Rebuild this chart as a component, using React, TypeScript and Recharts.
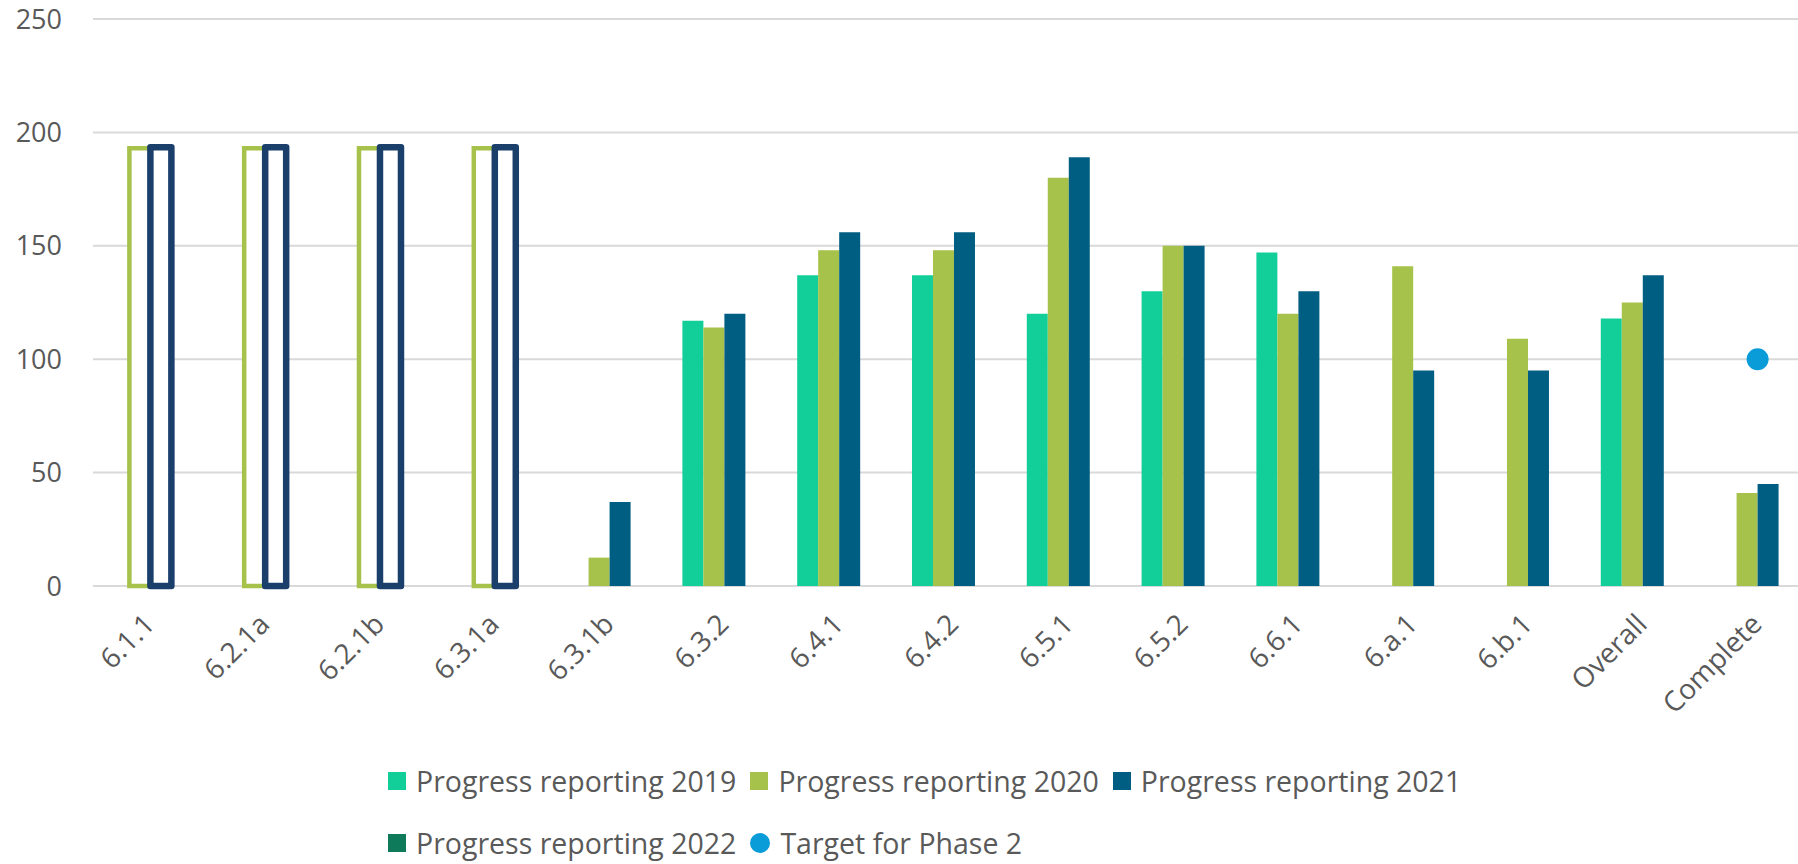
import React from "react";
import {
  ComposedChart,
  Bar,
  Line,
  Cell,
  XAxis,
  YAxis,
  CartesianGrid,
  Legend,
} from "recharts";

// Indicator categories along the x axis
const categories = [
  "6.1.1",
  "6.2.1a",
  "6.2.1b",
  "6.3.1a",
  "6.3.1b",
  "6.3.2",
  "6.4.1",
  "6.4.2",
  "6.5.1",
  "6.5.2",
  "6.6.1",
  "6.a.1",
  "6.b.1",
  "Overall",
  "Complete",
];

// Series values (null = no bar)
const reporting2019 = [null, null, null, null, null, 117, 137, 137, 120, 130, 147, null, null, 118, null];
const reporting2020 = [193, 193, 193, 193, 12.5, 114, 148, 148, 180, 150, 120, 141, 109, 125, 41];
const reporting2021 = [193.5, 193.5, 193.5, 193.5, 37, 120, 156, 156, 189, 150, 130, 95, 95, 137, 45];
const reporting2022 = [null, null, null, null, null, null, null, null, null, null, null, null, null, null, null];
const targetPhase2 = [null, null, null, null, null, null, null, null, null, null, null, null, null, null, 100];

// Categories drawn as empty (outlined) placeholder bars
const outlined = [true, true, true, true, false, false, false, false, false, false, false, false, false, false, false];

const yTicks = [0, 50, 100, 150, 200, 250];

const seriesColors: Record<string, string> = {
  p2019: "#12cf99",
  p2020: "#a6c24a",
  p2021: "#005e82",
  p2022: "#0e7a5a",
  target: "#0a9cd8",
};

const outlineBlue = "#1a3f6b";
const textGray = "#595959";
const font = "'Open Sans', sans-serif";

const chartData = categories.map((name, i) => ({
  name,
  p2019: reporting2019[i],
  p2020: reporting2020[i],
  p2021: reporting2021[i],
  p2022: reporting2022[i],
  target: targetPhase2[i],
}));

function CategoryTick(props: any) {
  const { x, y, payload } = props;
  const ax = x + 6;
  const ay = y + 40;
  return (
    <text
      x={ax}
      y={ay}
      textAnchor="end"
      fill={textGray}
      fontSize={28}
      fontFamily={font}
      transform={`rotate(-45 ${ax} ${ay})`}
    >
      {payload.value}
    </text>
  );
}

function renderLegend(props: any) {
  const items = props.payload ?? [];
  const rows = [items.slice(0, 3), items.slice(3)];
  return (
    <div
      style={{
        position: "absolute",
        left: 388,
        top: 766,
        fontFamily: font,
        fontSize: 28.5,
        color: textGray,
      }}
    >
      {rows.map((row: any[], r: number) => (
        <div
          key={r}
          style={{
            display: "flex",
            alignItems: "center",
            height: 30,
            marginBottom: r === 0 ? 32 : 0,
            whiteSpace: "nowrap",
          }}
        >
          {row.map((entry: any) => (
            <span
              key={entry.dataKey}
              style={{ display: "flex", alignItems: "center", marginRight: 14 }}
            >
              <span
                style={{
                  display: "inline-block",
                  width: entry.dataKey === "target" ? 20 : 18,
                  height: entry.dataKey === "target" ? 20 : 18,
                  borderRadius: entry.dataKey === "target" ? "50%" : 0,
                  background: seriesColors[entry.dataKey],
                  marginRight: 10,
                }}
              />
              <span style={{ lineHeight: "30px" }}>{entry.value}</span>
            </span>
          ))}
        </div>
      ))}
    </div>
  );
}

export default function App() {
  return (
    <div
      style={{
        position: "fixed",
        left: 0,
        top: 0,
        width: 1798,
        height: 864,
        overflow: "hidden",
        background: "#fff",
      }}
    >
      <ComposedChart
        width={1815}
        height={864}
        data={chartData}
        margin={{ top: 19, right: 0, bottom: 0, left: 0 }}
        barCategoryGap="13.4%"
        barGap={0}
        style={{ fontFamily: font }}
      >
        <CartesianGrid vertical={false} stroke="#d9d9d9" strokeWidth={2} />
        <XAxis
          dataKey="name"
          height={278}
          interval={0}
          axisLine={false}
          tickLine={false}
          tickSize={0}
          tickMargin={0}
          tick={<CategoryTick />}
        />
        <YAxis
          width={93}
          domain={[0, 250]}
          ticks={yTicks}
          axisLine={false}
          tickLine={false}
          tickSize={0}
          tickMargin={31}
          tick={{ fill: textGray, fontSize: 27, fontFamily: font }}
        />
        <Legend
          content={renderLegend}
          wrapperStyle={{ left: 0, top: 0, width: 0, height: 0 }}
        />
        <Bar dataKey="p2019" name="Progress reporting 2019" fill={seriesColors.p2019} isAnimationActive={false} />
        <Bar dataKey="p2020" name="Progress reporting 2020" fill={seriesColors.p2020} isAnimationActive={false}>
          {chartData.map((d, i) =>
            outlined[i] ? (
              <Cell key={i} fill="#fff" stroke={seriesColors.p2020} strokeWidth={4.5} />
            ) : (
              <Cell key={i} fill={seriesColors.p2020} />
            )
          )}
        </Bar>
        <Bar dataKey="p2021" name="Progress reporting 2021" fill={seriesColors.p2021} isAnimationActive={false}>
          {chartData.map((d, i) =>
            outlined[i] ? (
              <Cell key={i} fill="#fff" stroke={outlineBlue} strokeWidth={6.5} strokeLinejoin="round" />
            ) : (
              <Cell key={i} fill={seriesColors.p2021} />
            )
          )}
        </Bar>
        <Bar dataKey="p2022" name="Progress reporting 2022" fill={seriesColors.p2022} isAnimationActive={false} />
        <Line
          dataKey="target"
          name="Target for Phase 2"
          stroke="none"
          dot={{ r: 11, fill: seriesColors.target, stroke: "none" }}
          activeDot={false}
          isAnimationActive={false}
        />
      </ComposedChart>
    </div>
  );
}
